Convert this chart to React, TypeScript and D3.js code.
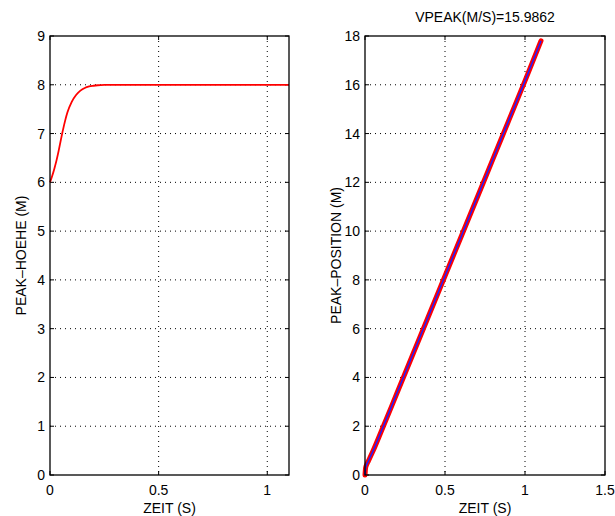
import React from "react";
import * as d3 from "d3";

// Left panel: peak height over time
const timeH = [0, 0.01, 0.02, 0.03, 0.04, 0.05, 0.06, 0.07, 0.08, 0.1, 0.12, 0.14, 0.16, 0.18, 0.2, 0.22, 0.25, 0.3, 0.4, 0.5, 0.6, 0.7, 0.8, 0.9, 1.0, 1.1];
const hoehe = [6, 6.13, 6.28, 6.45, 6.65, 6.87, 7.08, 7.27, 7.43, 7.65, 7.79, 7.88, 7.935, 7.965, 7.98, 7.99, 7.997, 8.0, 8.0, 8.0, 8.0, 8.0, 8.0, 8.0, 8.0, 8.0];

// Right panel: peak position over time
const timeP = [0, 0.004, 0.01, 0.02, 0.05, 0.1, 0.2, 0.3, 0.4, 0.5, 0.6, 0.7, 0.8, 0.9, 1.0, 1.1];
const position = [0, 0.3, 0.42, 0.56, 0.98, 1.76, 3.36, 4.96, 6.56, 8.16, 9.76, 11.36, 12.96, 14.56, 16.16, 17.8];

const leftXTicks = [0, 0.5, 1];
const leftYTicks = [0, 1, 2, 3, 4, 5, 6, 7, 8, 9];
const rightXTicks = [0, 0.5, 1, 1.5];
const rightYTicks = [0, 2, 4, 6, 8, 10, 12, 14, 16, 18];

const FONT = "'Liberation Sans', Arial, Helvetica, sans-serif";

type PanelProps = {
  x0: number; x1: number; y0: number; y1: number;
  xDomain: [number, number]; yDomain: [number, number];
  xTicks: number[]; yTicks: number[];
  yLabel: string; title?: string;
  children: (xs: d3.ScaleLinear<number, number>, ys: d3.ScaleLinear<number, number>) => React.ReactNode;
};

function Panel({ x0, x1, y0, y1, xDomain, yDomain, xTicks, yTicks, yLabel, title, children }: PanelProps) {
  const xs = d3.scaleLinear().domain(xDomain).range([x0, x1]);
  const ys = d3.scaleLinear().domain(yDomain).range([y1, y0]);
  const tl = 4;
  const fmt = (v: number) => String(v);
  return (
    <g>
      {/* grid */}
      {xTicks.filter(t => t > xDomain[0] && t < xDomain[1]).map(t => (
        <line key={"gx" + t} x1={xs(t)} x2={xs(t)} y1={y0} y2={y1} stroke="#000" strokeWidth={1} strokeDasharray="1,4" />
      ))}
      {yTicks.filter(t => t > yDomain[0] && t < yDomain[1]).map(t => (
        <line key={"gy" + t} x1={x0} x2={x1} y1={ys(t)} y2={ys(t)} stroke="#000" strokeWidth={1} strokeDasharray="1,4" />
      ))}
      {/* ticks */}
      {xTicks.map(t => (
        <g key={"tx" + t}>
          <line x1={xs(t)} x2={xs(t)} y1={y1} y2={y1 - tl} stroke="#000" />
          <line x1={xs(t)} x2={xs(t)} y1={y0} y2={y0 + tl} stroke="#000" />
          <text x={xs(t)} y={y1 + 20} textAnchor="middle" fontSize={14} fontFamily={FONT}>{fmt(t)}</text>
        </g>
      ))}
      {yTicks.map(t => (
        <g key={"ty" + t}>
          <line x1={x0} x2={x0 + tl} y1={ys(t)} y2={ys(t)} stroke="#000" />
          <line x1={x1} x2={x1 - tl} y1={ys(t)} y2={ys(t)} stroke="#000" />
          <text x={x0 - 5} y={ys(t) + 5} textAnchor="end" fontSize={14} fontFamily={FONT}>{fmt(t)}</text>
        </g>
      ))}
      {children(xs, ys)}
      <rect x={x0} y={y0} width={x1 - x0} height={y1 - y0} fill="none" stroke="#000" strokeWidth={1.3} />
      <text x={(x0 + x1) / 2} y={y1 + 38} textAnchor="middle" fontSize={14} fontFamily={FONT}>ZEIT (S)</text>
      <text transform={`translate(${x0 - 24},${(y0 + y1) / 2}) rotate(-90)`} textAnchor="middle" fontSize={14} fontFamily={FONT}>{yLabel}</text>
      {title && <text x={(x0 + x1) / 2} y={y0 - 14} textAnchor="middle" fontSize={14} fontFamily={FONT}>{title}</text>}
    </g>
  );
}

export default function App() {
  return (
    <svg width={615} height={516} style={{ position: "absolute", left: 0, top: 0, background: "#fff" }}>
      <rect width={615} height={516} fill="#fff" />
      <Panel x0={50} x1={289} y0={36} y1={475} xDomain={[0, 1.1]} yDomain={[0, 9]}
        xTicks={leftXTicks} yTicks={leftYTicks} yLabel="PEAK–HOEHE (M)">
        {(xs, ys) => {
          const line = d3.line<number>().x((_, i) => xs(timeH[i])).y(d => ys(d)).curve(d3.curveMonotoneX);
          return <path d={line(hoehe) || ""} fill="none" stroke="#ff0000" strokeWidth={1.8} />;
        }}
      </Panel>
      <Panel x0={365} x1={605} y0={36} y1={475} xDomain={[0, 1.5]} yDomain={[0, 18]}
        xTicks={rightXTicks} yTicks={rightYTicks} yLabel="PEAK–POSITION (M)" title="VPEAK(M/S)=15.9862">
        {(xs, ys) => {
          const line = d3.line<number>().x((_, i) => xs(timeP[i])).y(d => ys(d)).curve(d3.curveMonotoneX);
          const d = line(position) || "";
          return (
            <g>
              <path d={d} fill="none" stroke="#ff0000" strokeWidth={5} strokeLinecap="round" />
              <path d={d} fill="none" stroke="#2020ff" strokeWidth={1.5} />
            </g>
          );
        }}
      </Panel>
    </svg>
  );
}
